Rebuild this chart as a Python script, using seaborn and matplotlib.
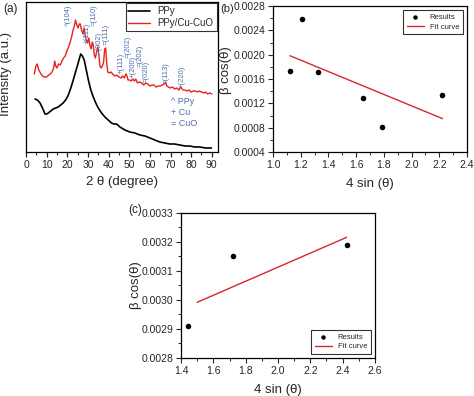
import numpy as np
import pandas as pd
import matplotlib
matplotlib.use('Agg')
import matplotlib.pyplot as plt
from matplotlib.ticker import MultipleLocator, FormatStrFormatter
import seaborn as sns

# XRD patterns (intensity in arbitrary units)
ppy_theta = [4.4, 5.5, 6.8, 8.0, 9.2, 10.0, 10.8, 12.0, 13.2, 14.4, 15.6, 16.8, 18.0, 19.2, 20.5, 21.7,
             22.9, 24.0, 25.0, 25.8, 26.5, 27.3, 28.2, 29.2, 30.2, 31.4, 32.6, 33.8, 35.0, 36.6, 38.2,
             39.8, 41.4, 42.6, 43.9, 45.5, 47.9, 50.3, 52.7, 55.2, 57.6, 60.0, 62.4, 64.8, 67.2, 69.7,
             72.0, 74.5, 77.0, 79.3, 81.7, 84.2, 87.0, 89.8]
ppy_int = [53, 52, 49, 44, 38, 38, 39, 41, 43, 44, 45, 47, 49, 52, 57, 64,
           72, 80, 87, 93, 98, 96, 92, 82, 72, 62, 55, 49, 44, 39, 35,
           32, 29, 28, 28, 25, 22, 20, 19, 17, 16, 14, 12, 10, 9, 8,
           8, 7, 6, 6, 5, 5, 4, 4]

comp_theta = [4.0, 4.8, 5.4, 6.2, 7.0, 8.0, 9.0, 10.0, 11.0, 11.8, 12.6, 13.4, 13.9, 14.4, 15.0, 15.8,
              16.6, 17.4, 18.2, 19.0, 19.8, 20.6, 21.4, 22.2, 22.8, 23.4, 24.0, 24.6, 25.2, 25.8, 26.3,
              26.9, 27.6, 28.2, 28.7, 29.2, 29.8, 30.4, 31.0, 31.6, 32.1, 32.6, 33.1, 33.6, 34.2, 34.8,
              35.3, 35.8, 36.4, 37.0, 37.6, 38.1, 38.6, 39.1, 39.6, 40.4, 41.2, 42.0, 43.0, 44.0, 45.0,
              46.0, 46.8, 47.6, 48.4, 48.9, 49.4, 50.2, 51.0, 51.8, 52.5, 53.2, 54.0, 55.0, 56.0, 57.0,
              58.0, 59.0, 60.0, 61.0, 62.0, 63.0, 64.0, 65.0, 66.0, 67.0, 67.6, 68.2, 69.0, 70.0, 71.0,
              72.0, 73.0, 74.0, 75.0, 75.6, 76.2, 77.0, 78.0, 79.0, 80.0, 81.0, 82.0, 83.0, 84.0, 85.0,
              86.0, 87.0, 88.0, 89.0, 90.0]
comp_int = [78, 86, 88, 82, 79, 76, 75, 75, 77, 78, 80, 84, 91, 86, 84, 88,
            87, 91, 94, 96, 101, 105, 110, 116, 122, 126, 132, 127, 124, 128, 128,
            122, 118, 124, 116, 112, 109, 114, 106, 103, 110, 107, 97, 94, 100, 105,
            97, 86, 84, 86, 90, 103, 104, 89, 80, 79, 80, 78, 76, 77, 75,
            74, 76, 74, 78, 76, 72, 72, 71, 73, 71, 73, 69, 70, 69, 67,
            69, 68, 66, 67, 67, 65, 66, 66, 67, 68, 70, 66, 65, 64, 65,
            63, 64, 62, 65, 63, 62, 62, 61, 62, 60, 61, 61, 60, 61, 60,
            59, 60, 58, 59, 58]

# peak labels: position (2theta) and height of label base
peak_labels = ['^(104)', '+(111)', '=(110)', '=(002)', '=(111)', '+(111)', '=(202)',
               '+(200)', '=(202)', '=(020)', '=(113)', '+(220)']
peak_theta = [20.8, 29.5, 32.9, 35.3, 38.7, 46.0, 49.3, 51.8, 55.2, 58.0, 67.7, 75.5]
peak_base = [126, 108, 126, 98, 107, 78, 94, 74, 85, 69, 68, 64]

# Williamson-Hall data, panel (b)
b_x = [1.123, 1.212, 1.328, 1.649, 1.789, 2.221]
b_y = [0.001735, 0.00258, 0.00171, 0.001284, 0.000812, 0.00134]
b_fit_x = [1.123, 2.223]
b_fit_y = [0.001982, 0.000949]

# panel (c)
c_x = [1.445, 1.72, 2.425]
c_y = [0.002911, 0.003152, 0.003191]
c_fit_x = [1.5, 2.424]
c_fit_y = [0.002992, 0.003216]

sns.set_theme(style='ticks')
plt.rcParams['font.family'] = ['Liberation Sans', 'DejaVu Sans']
plt.rcParams['axes.linewidth'] = 0.9
plt.rcParams['axes.edgecolor'] = 'black'

RED = '#e8221c'
FIT = '#d8262a'
BLUE = '#4a6fae'
W, H = 474, 396

fig = plt.figure(figsize=(4.74, 3.96), dpi=100)

def box(l, r, t, b):
    return [l / W, 1 - b / H, (r - l) / W, (b - t) / H]

# ---- panel (a)
ax = fig.add_axes(box(26, 218, 2, 152))
sns.lineplot(x=ppy_theta, y=ppy_int, ax=ax, color='black', lw=1.2, sort=False,
             estimator=None, label='PPy')
sns.lineplot(x=comp_theta, y=comp_int, ax=ax, color=RED, lw=1.0, sort=False,
             estimator=None, label='PPy/Cu-CuO')
for lab, t, b in zip(peak_labels, peak_theta, peak_base):
    ax.text(t, b, lab, rotation=90, ha='center', va='bottom', fontsize=5.5, color=BLUE)
ax.text(70, 55, '^ PPy\n+ Cu\n= CuO', fontsize=6.5, color=BLUE, va='top', ha='left',
        linespacing=1.25)
ax.set_xlim(0, 93)
ax.set_ylim(0, 150)
ax.set_yticks([])
ax.xaxis.set_major_locator(MultipleLocator(10))
ax.xaxis.set_minor_locator(MultipleLocator(5))
ax.tick_params(axis='x', which='major', direction='out', length=3.5, width=0.9,
               labelsize=7.5, pad=2)
ax.tick_params(axis='x', which='minor', direction='out', length=2, width=0.8)
ax.set_xlabel('2 θ (degree)', fontsize=9.5)
ax.xaxis.set_label_coords(0.5, -0.16)
ax.set_ylabel('Intensity (a.u.)', fontsize=9.5)
ax.yaxis.set_label_coords(-0.075, 0.52)
leg = ax.legend(loc='upper right', fontsize=7, frameon=True, fancybox=False,
                handlelength=2.2, borderpad=0.3, labelspacing=0.2, borderaxespad=0.15)
leg.get_frame().set_edgecolor('black')
leg.get_frame().set_linewidth(0.8)


def wh_panel(ax, xs, ys, fx, fy, xlim, ylim, ymaj, ymin_, legloc):
    sns.scatterplot(x=xs, y=ys, ax=ax, color='black', s=16, edgecolor='black',
                    linewidth=0, label='Results', zorder=3)
    sns.lineplot(x=fx, y=fy, ax=ax, color=FIT, lw=1.0, label='Fit curve')
    ax.set_xlim(*xlim)
    ax.set_ylim(*ylim)
    ax.xaxis.set_major_locator(MultipleLocator(0.2))
    ax.xaxis.set_minor_locator(MultipleLocator(0.1))
    ax.xaxis.set_major_formatter(FormatStrFormatter('%.1f'))
    ax.yaxis.set_major_locator(MultipleLocator(ymaj))
    ax.yaxis.set_minor_locator(MultipleLocator(ymin_))
    ax.yaxis.set_major_formatter(FormatStrFormatter('%.4f'))
    ax.tick_params(which='major', direction='out', length=3.5, width=0.8, labelsize=7.5, pad=2)
    ax.tick_params(which='minor', direction='out', length=2, width=0.7)
    ax.set_xlabel('4 sin (θ)', fontsize=9.5)
    ax.set_ylabel('β cos(θ)', fontsize=9.5)
    lg = ax.legend(loc=legloc, fontsize=5.5, frameon=True, fancybox=False,
                   handlelength=2.2, borderpad=0.5, labelspacing=0.3, markerscale=0.8)
    lg.get_frame().set_edgecolor('black')
    lg.get_frame().set_linewidth(0.8)


# ---- panel (b)
axb = fig.add_axes(box(273, 467, 6, 152))
wh_panel(axb, b_x, b_y, b_fit_x, b_fit_y, (1.0, 2.4), (0.0004, 0.0028), 0.0004, 0.0002,
         'upper right')
axb.xaxis.set_label_coords(0.5, -0.18)
axb.yaxis.set_label_coords(-0.21, 0.56)

# ---- panel (c)
axc = fig.add_axes(box(181, 375, 213, 358))
wh_panel(axc, c_x, c_y, c_fit_x, c_fit_y, (1.4, 2.6), (0.0028, 0.0033), 0.0001, 0.00005,
         'lower right')
axc.xaxis.set_label_coords(0.5, -0.18)
axc.yaxis.set_label_coords(-0.2, 0.5)

fig.text(3 / W, 1 - 9 / H, '(a)', fontsize=8.5, va='center', ha='left')
fig.text(220 / W, 1 - 9 / H, '(b)', fontsize=8, va='center', ha='left')
fig.text(128 / W, 1 - 210 / H, '(c)', fontsize=8.5, va='center', ha='left')

fig.savefig('out.png', dpi=100)
